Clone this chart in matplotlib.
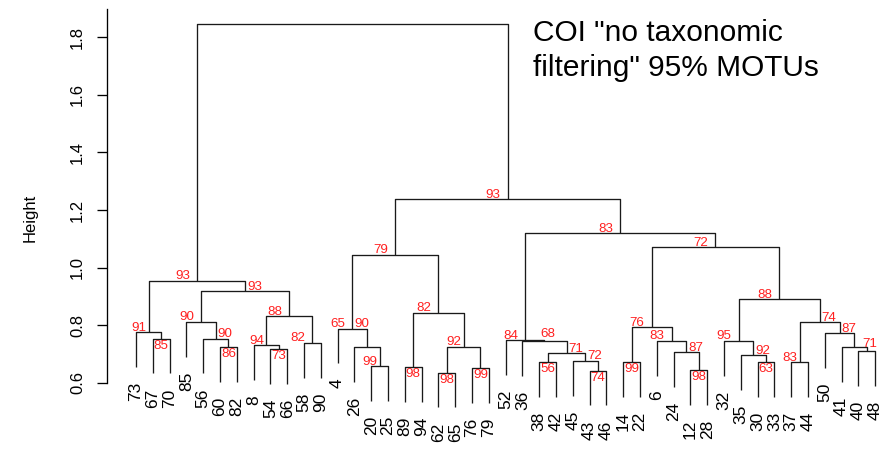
import matplotlib.pyplot as plt
import numpy as np

plt.rcParams['font.family'] = ['Liberation Sans', 'DejaVu Sans']

# leaf order as drawn, left to right
leaves = ['73', '67', '70', '85', '56', '60', '82', '8', '54', '66', '58', '90',
          '4', '26', '20', '25', '89', '94', '62', '65', '76', '79',
          '52', '36', '38', '42', '45', '43', '46', '14', '22', '6', '24', '12',
          '28', '32', '35', '30', '33', '37', '44', '50', '41', '40', '48']

# merges: a child is a leaf label (str) or the index of an earlier merge (int)
merges = [('67', '70'), ('73', 0), ('60', '82'), ('56', 2), ('85', 3),
          ('54', '66'), ('8', 5), ('58', '90'), (6, 7), (4, 8), (1, 9),
          ('20', '25'), ('26', 11), ('4', 12), ('89', '94'), ('62', '65'),
          ('76', '79'), (15, 16), (14, 17), (13, 18),
          ('38', '42'), ('43', '46'), ('45', 21), (20, 22), ('36', 23), ('52', 24),
          ('14', '22'), ('12', '28'), ('24', 27), ('6', 28), (26, 29),
          ('30', '33'), ('35', 31), ('32', 32), ('37', '44'), ('40', '48'),
          ('41', 35), ('50', 36), (34, 37), (33, 38), (30, 39), (25, 40),
          (19, 41), (10, 42)]
heights = [0.753, 0.775, 0.723, 0.753, 0.811, 0.718, 0.730, 0.738, 0.831, 0.918,
           0.954, 0.657, 0.723, 0.788, 0.655, 0.635, 0.651, 0.725, 0.843, 1.045,
           0.672, 0.642, 0.676, 0.702, 0.744, 0.748, 0.673, 0.644, 0.706, 0.746,
           0.792, 0.673, 0.696, 0.746, 0.671, 0.711, 0.723, 0.772, 0.810, 0.890,
           1.070, 1.119, 1.238, 1.845]

# bootstrap support printed in red: node, value, where it sits
support_node = [0, 1, 2, 3, 4, 5, 6, 7, 8, 9, 10,
                11, 13, 13, 14, 15, 16, 17, 18, 19,
                20, 21, 22, 23, 24, 25, 26, 27, 28, 29, 30, 31, 32, 33, 34, 35,
                37, 38, 39, 40, 41, 42]
support_value = ['85', '91', '86', '90', '90', '73', '94', '82', '88', '93', '93',
                 '99', '65', '90', '98', '98', '99', '92', '82', '79',
                 '56', '74', '72', '71', '68', '84', '99', '98', '87', '83', '76',
                 '63', '92', '95', '83', '71', '87', '74', '88', '72', '83', '93']
support_side = ['b', 'm', 'b', 'r', 'l', 'b', 'm', 'l', 'l', 'r', 'l',
                'm', 'l', 'r', 'b', 'b', 'b', 'm', 'l', 'l',
                'b', 'b', 'r', 'r', 'c', 'l', 'b', 'b', 'r', 'l', 'l',
                'b', 'r', 'l', 'm', 'c', 'r', 'r', 'l', 'l', 'l', 'l']

title = 'COI "no taxonomic\nfiltering" 95% MOTUs'

# layout (pixels at dpi 100)
W, H = 889, 454
axis_px = 106.7
first_leaf_px = 136.0
leaf_step_px = 16.8
y06_px, px_per_unit = 382.7, 287.8

fig = plt.figure(figsize=(W / 100, H / 100), dpi=100)
ax = fig.add_axes([axis_px / W, 0, 1 - axis_px / W, 1])
ax.set_xlim(-(first_leaf_px - axis_px) / leaf_step_px, (W - first_leaf_px) / leaf_step_px)
ax.set_ylim(0.6 - (H - y06_px) / px_per_unit, 0.6 + y06_px / px_per_unit)

hang = 0.1 * (max(heights) - min(heights))
leaf_pos = {lab: i for i, lab in enumerate(leaves)}
node_x = []
line_kw = dict(color='#1a1a1a', lw=0.95, solid_capstyle='butt', clip_on=False)

def child_xy(c, h):
    if isinstance(c, str):
        return leaf_pos[c], h - hang
    return node_x[c], heights[c]

for k, (a, b) in enumerate(merges):
    h = heights[k]
    xa, ya = child_xy(a, h)
    xb, yb = child_xy(b, h)
    ax.plot([xa, xa, xb, xb], [ya, h, h, yb], **line_kw)
    node_x.append((xa + xb) / 2)
    for c, xc, yc in ((a, xa, ya), (b, xb, yb)):
        if isinstance(c, str):
            ax.annotate(c, (xc, yc), xytext=(0, -15), textcoords='offset pixels',
                        rotation=90, ha='center', va='top', fontsize=12.5)

offsets = {'l': (-7, 1.5, 'right', 'baseline'),
           'm': (-2, 1.5, 'right', 'baseline'),
           'r': (2, 1.5, 'left', 'baseline'),
           'c': (3, 4, 'center', 'baseline'),
           'b': (0, -1, 'center', 'top')}
for n, v, s in zip(support_node, support_value, support_side):
    dx, dy, ha, va = offsets[s]
    ax.annotate(v, (node_x[n], heights[n]), xytext=(dx, dy), textcoords='offset pixels',
                ha=ha, va=va, color='#ff2020', fontsize=9.6)

for sp in ['top', 'right', 'bottom']:
    ax.spines[sp].set_visible(False)
ax.spines['left'].set_bounds(0.6, 1.9)
ax.spines['left'].set_linewidth(0.95)
ax.set_xticks([])
ax.set_yticks(np.arange(0.6, 1.81, 0.2))
ax.set_yticklabels(['%.1f' % t for t in np.arange(0.6, 1.81, 0.2)],
                   rotation=90, va='center', fontsize=12)
ax.tick_params(axis='y', length=7.5, width=0.95, pad=8)
ax.set_ylabel('Height', fontsize=12)
ax.yaxis.set_label_coords(-(axis_px - 38) / (W - axis_px), 0.52)

fig.text(533 / W, 1 - 19 / H, title, ha='left', va='top', fontsize=21.5, linespacing=1.3)

fig.savefig('out.png', dpi=100)
